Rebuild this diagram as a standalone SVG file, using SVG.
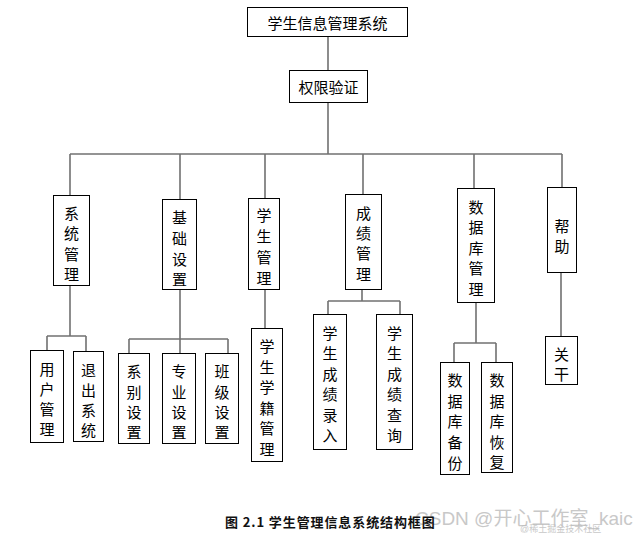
<svg xmlns="http://www.w3.org/2000/svg" width="640" height="533" viewBox="0 0 640 533">
<style>
.box{fill:#fff;stroke:#000;stroke-width:1}
.t{font-family:"Noto Sans CJK SC","Liberation Sans",sans-serif;font-size:15px;fill:#000;text-anchor:middle;dominant-baseline:central}
.c line{stroke:#707070;stroke-width:1.6}
.cap{font-family:"Noto Sans CJK SC","Liberation Sans",sans-serif;font-size:13px;fill:#111;font-weight:bold;letter-spacing:0.9px}
.wm{font-family:"Liberation Sans","Noto Sans CJK SC",sans-serif;fill:#bbb}
</style>
<rect width="640" height="533" fill="#fff"/>
<g class="c" id="connectors">
<line x1="328" y1="36" x2="328" y2="70"/>
<line x1="328" y1="102" x2="328" y2="154"/>
<line x1="70" y1="154" x2="562" y2="154"/>
<line x1="70" y1="154" x2="70" y2="195"/>
<line x1="180" y1="154" x2="180" y2="199"/>
<line x1="265" y1="154" x2="265" y2="198"/>
<line x1="363" y1="154" x2="363" y2="194"/>
<line x1="474" y1="154" x2="474" y2="188"/>
<line x1="562" y1="154" x2="562" y2="187"/>
<line x1="70" y1="285" x2="70" y2="336"/>
<line x1="47" y1="336" x2="86" y2="336"/>
<line x1="47" y1="336" x2="47" y2="350"/>
<line x1="86" y1="336" x2="86" y2="351"/>
<line x1="180" y1="289" x2="180" y2="339"/>
<line x1="129" y1="339" x2="228" y2="339"/>
<line x1="129" y1="339" x2="129" y2="353"/>
<line x1="180" y1="339" x2="180" y2="353"/>
<line x1="228" y1="339" x2="228" y2="353"/>
<line x1="265" y1="289" x2="265" y2="328"/>
<line x1="362" y1="289" x2="362" y2="301"/>
<line x1="328" y1="301" x2="400" y2="301"/>
<line x1="328" y1="301" x2="328" y2="314"/>
<line x1="400" y1="301" x2="400" y2="314"/>
<line x1="476" y1="302" x2="476" y2="343"/>
<line x1="454" y1="343" x2="496" y2="343"/>
<line x1="454" y1="343" x2="454" y2="362"/>
<line x1="496" y1="343" x2="496" y2="362"/>
<line x1="561" y1="272" x2="561" y2="336"/>
</g>
<g id="root"><rect class="box" x="247.5" y="7.5" width="160" height="29"/><text class="t" x="327.5" y="22">学生信息管理系统</text></g>
<g id="auth"><rect class="box" x="289.5" y="70.5" width="78" height="32"/><text class="t" x="328.5" y="86.5">权限验证</text></g>
<g id="sys"><rect class="box" x="53.5" y="195.5" width="36" height="90"/>
<text class="t" x="71.5" y="212">系</text><text class="t" x="71.5" y="232.5">统</text><text class="t" x="71.5" y="253">管</text><text class="t" x="71.5" y="273.5">理</text></g>
<g id="base"><rect class="box" x="162.5" y="199.5" width="34" height="90"/>
<text class="t" x="179.5" y="216">基</text><text class="t" x="179.5" y="237">础</text><text class="t" x="179.5" y="258">设</text><text class="t" x="179.5" y="278">置</text></g>
<g id="stu"><rect class="box" x="248.5" y="198.5" width="31" height="91"/>
<text class="t" x="264" y="214">学</text><text class="t" x="264" y="235">生</text><text class="t" x="264" y="256">管</text><text class="t" x="264" y="277">理</text></g>
<g id="score"><rect class="box" x="345.5" y="194.5" width="36" height="95"/>
<text class="t" x="363.5" y="212">成</text><text class="t" x="363.5" y="232">绩</text><text class="t" x="363.5" y="252.5">管</text><text class="t" x="363.5" y="273">理</text></g>
<g id="db"><rect class="box" x="457.5" y="188.5" width="37" height="114"/>
<text class="t" x="476" y="206">数</text><text class="t" x="476" y="226.5">据</text><text class="t" x="476" y="247">库</text><text class="t" x="476" y="267.5">管</text><text class="t" x="476" y="288">理</text></g>
<g id="help"><rect class="box" x="547.5" y="187.5" width="29" height="85"/>
<text class="t" x="562" y="225">帮</text><text class="t" x="562" y="245">助</text></g>
<g id="user"><rect class="box" x="30.5" y="350.5" width="33" height="92"/>
<text class="t" x="47" y="368">用</text><text class="t" x="47" y="388">户</text><text class="t" x="47" y="408">管</text><text class="t" x="47" y="428.5">理</text></g>
<g id="exit"><rect class="box" x="73.5" y="351.5" width="30" height="90"/>
<text class="t" x="88.5" y="369">退</text><text class="t" x="88.5" y="389">出</text><text class="t" x="88.5" y="409">系</text><text class="t" x="88.5" y="429">统</text></g>
<g id="dept"><rect class="box" x="118.5" y="353.5" width="31" height="90"/>
<text class="t" x="134" y="370.5">系</text><text class="t" x="134" y="391">别</text><text class="t" x="134" y="411">设</text><text class="t" x="134" y="431.5">置</text></g>
<g id="major"><rect class="box" x="162.5" y="353.5" width="33" height="90"/>
<text class="t" x="179" y="370.5">专</text><text class="t" x="179" y="391">业</text><text class="t" x="179" y="411">设</text><text class="t" x="179" y="431.5">置</text></g>
<g id="class"><rect class="box" x="205.5" y="353.5" width="33" height="90"/>
<text class="t" x="222" y="370.5">班</text><text class="t" x="222" y="391">级</text><text class="t" x="222" y="411">设</text><text class="t" x="222" y="431.5">置</text></g>
<g id="roll"><rect class="box" x="251.5" y="328.5" width="31" height="133"/>
<text class="t" x="267" y="345">学</text><text class="t" x="267" y="366">生</text><text class="t" x="267" y="386.5">学</text><text class="t" x="267" y="407">籍</text><text class="t" x="267" y="427.5">管</text><text class="t" x="267" y="448">理</text></g>
<g id="entry"><rect class="box" x="313.5" y="314.5" width="33" height="135"/>
<text class="t" x="330" y="332">学</text><text class="t" x="330" y="352.5">生</text><text class="t" x="330" y="373">成</text><text class="t" x="330" y="393.5">绩</text><text class="t" x="330" y="414">录</text><text class="t" x="330" y="434.5">入</text></g>
<g id="query"><rect class="box" x="376.5" y="314.5" width="36" height="135"/>
<text class="t" x="394.5" y="332">学</text><text class="t" x="394.5" y="352.5">生</text><text class="t" x="394.5" y="373">成</text><text class="t" x="394.5" y="393.5">绩</text><text class="t" x="394.5" y="414">查</text><text class="t" x="394.5" y="434.5">询</text></g>
<g id="backup"><rect class="box" x="440.5" y="362.5" width="29" height="112"/>
<text class="t" x="455" y="379">数</text><text class="t" x="455" y="400">据</text><text class="t" x="455" y="420.5">库</text><text class="t" x="455" y="441.5">备</text><text class="t" x="455" y="462">份</text></g>
<g id="restore"><rect class="box" x="481.5" y="362.5" width="31" height="110"/>
<text class="t" x="497" y="379">数</text><text class="t" x="497" y="400">据</text><text class="t" x="497" y="420.5">库</text><text class="t" x="497" y="441">恢</text><text class="t" x="497" y="461">复</text></g>
<g id="about"><rect class="box" x="545.5" y="336.5" width="32" height="48"/>
<text class="t" x="561.5" y="353">关</text><text class="t" x="561.5" y="373">干</text></g>
<text class="wm" x="415" y="525" font-size="19" opacity="0.8">CSDN @开心工作室_kaic</text>
<text class="wm" x="520" y="532" font-size="9" opacity="0.8">@稀土掘金技术社区</text>
<text class="cap" x="225" y="527">图 2.1  学生管理信息系统结构框图</text>
</svg>
